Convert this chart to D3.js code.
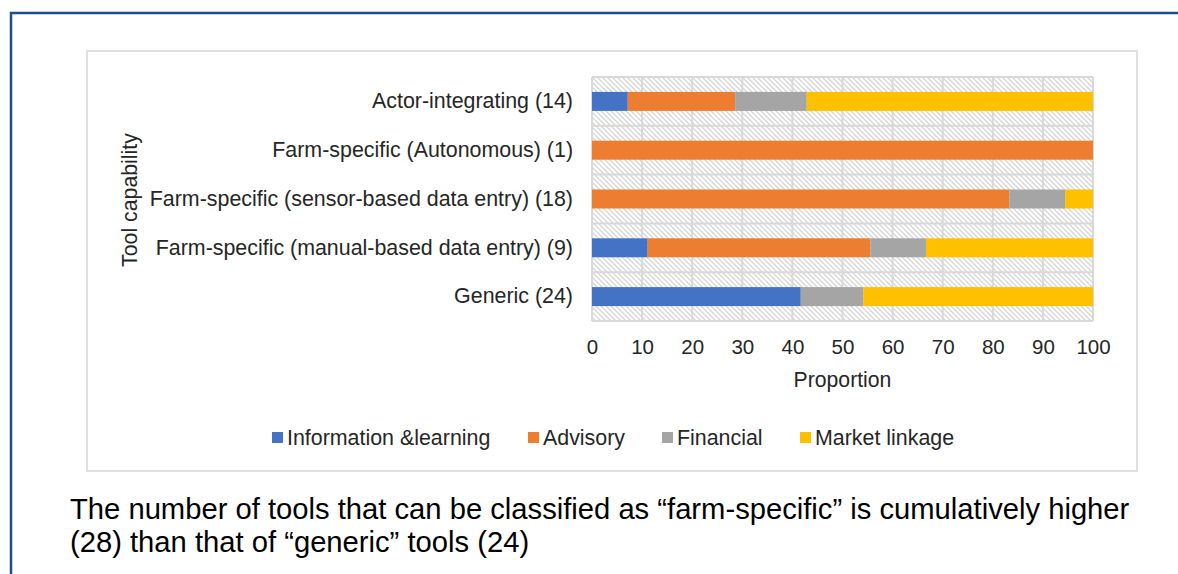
<!DOCTYPE html>
<html>
<head>
<meta charset="utf-8">
<script src="https://cdn.jsdelivr.net/npm/d3@7"></script>
<style>
  body { margin: 0; background: #fff; }
  text { font-family: "Liberation Sans", Arial, sans-serif; fill: #262626; }
</style>
</head>
<body>
<script>
// chart values (proportion of tools, %)
var categories = [
  "Actor-integrating (14)",
  "Farm-specific (Autonomous) (1)",
  "Farm-specific (sensor-based data entry) (18)",
  "Farm-specific (manual-based data entry) (9)",
  "Generic (24)"
];
var seriesNames = ["Information &learning", "Advisory", "Financial", "Market linkage"];
var infoLearning = [7.14, 0, 0, 11.11, 41.67];
var advisory = [21.43, 100, 83.33, 44.44, 0];
var financial = [14.29, 0, 11.11, 11.11, 12.5];
var marketLinkage = [57.14, 0, 5.56, 33.33, 45.83];
var xTicks = [0, 10, 20, 30, 40, 50, 60, 70, 80, 90, 100];

var colors = ["#4472C4", "#ED7D31", "#A5A5A5", "#FFC000"];

var W = 1178, H = 574;
var plot = {left: 592, right: 1093, top: 77, bottom: 321};

var svg = d3.select("body").append("svg")
  .attr("width", W)
  .attr("height", H);

// hatch pattern for the plot area
var defs = svg.append("defs");
var pat = defs.append("pattern")
  .attr("id", "hatch")
  .attr("patternUnits", "userSpaceOnUse")
  .attr("width", 5)
  .attr("height", 5);
pat.append("rect").attr("width", 5).attr("height", 5).attr("fill", "#fff");
pat.append("path")
  .attr("d", "M-1,-1 L6,6 M-1,4 L1,6 M4,-1 L6,1")
  .attr("stroke", "#d6d6d6")
  .attr("stroke-width", 1.3);

// outer slide frame
svg.append("path")
  .attr("d", "M11,580 L11,13 L1190,13")
  .attr("fill", "none")
  .attr("stroke", "#1F4E8C")
  .attr("stroke-width", 2.5);

// chart border
svg.append("rect")
  .attr("x", 87).attr("y", 51)
  .attr("width", 1050).attr("height", 420)
  .attr("fill", "#fff")
  .attr("stroke", "#e0e0e0")
  .attr("stroke-width", 2);

var x = d3.scaleLinear().domain([0, 100]).range([plot.left, plot.right]);
var y = d3.scaleBand().domain(categories).range([plot.top, plot.bottom]).paddingInner(0).paddingOuter(0);

svg.append("rect")
  .attr("x", plot.left).attr("y", plot.top)
  .attr("width", plot.right - plot.left).attr("height", plot.bottom - plot.top)
  .attr("fill", "url(#hatch)");

// gridlines
var grid = svg.append("g").attr("stroke", "#d9d9d9").attr("stroke-width", 2);
grid.selectAll(".vg").data(xTicks).enter().append("line")
  .attr("x1", d => x(d)).attr("x2", d => x(d))
  .attr("y1", plot.top).attr("y2", plot.bottom);
var bounds = categories.map(c => y(c)).concat([plot.bottom]);
grid.selectAll(".hg").data(bounds).enter().append("line")
  .attr("x1", plot.left).attr("x2", plot.right)
  .attr("y1", d => d).attr("y2", d => d);

// stacked bars
var rows = categories.map(function (c, i) {
  return {cat: c, s0: infoLearning[i], s1: advisory[i], s2: financial[i], s3: marketLinkage[i]};
});
var stack = d3.stack().keys(["s0", "s1", "s2", "s3"])(rows);
var barH = 19;

svg.append("g").selectAll("g")
  .data(stack)
  .enter().append("g")
  .attr("fill", (d, i) => colors[i])
  .selectAll("rect")
  .data(d => d)
  .enter().append("rect")
  .attr("x", d => x(d[0]))
  .attr("width", d => x(d[1]) - x(d[0]))
  .attr("y", d => y(d.data.cat) + y.bandwidth() / 2 - barH / 2)
  .attr("height", barH);

// axes
var xAxis = svg.append("g")
  .attr("transform", "translate(0," + plot.bottom + ")")
  .call(d3.axisBottom(x).tickValues(xTicks).tickSize(0).tickPadding(18));
xAxis.select(".domain").remove();
xAxis.selectAll("text").style("font-size", "20.5px").attr("fill", "#262626");

var yAxis = svg.append("g")
  .attr("transform", "translate(" + plot.left + ",0)")
  .call(d3.axisLeft(y).tickSize(0).tickPadding(19));
yAxis.select(".domain").remove();
yAxis.selectAll("text").style("font-size", "21.4px").attr("fill", "#262626");

svg.append("text")
  .attr("x", x(50)).attr("y", 387)
  .attr("text-anchor", "middle")
  .style("font-size", "21.2px")
  .text("Proportion");

svg.append("text")
  .attr("transform", "translate(137,200) rotate(-90)")
  .attr("text-anchor", "middle")
  .style("font-size", "21.3px")
  .text("Tool capability");

// legend
var legendX = [272, 528, 662, 800];
var legend = svg.append("g").selectAll("g")
  .data(seriesNames)
  .enter().append("g")
  .attr("transform", (d, i) => "translate(" + legendX[i] + ",432)");
legend.append("rect")
  .attr("width", 11).attr("height", 11)
  .attr("fill", (d, i) => colors[i]);
legend.append("text")
  .attr("x", 15).attr("y", 13)
  .style("font-size", "21.4px")
  .text(d => d);

// caption under the chart
var caption = [
  "The number of tools that can be classified as \u201cfarm-specific\u201d is cumulatively higher",
  "(28) than that of \u201cgeneric\u201d tools (24)"
];
svg.append("g").selectAll("text")
  .data(caption)
  .enter().append("text")
  .attr("x", 70)
  .attr("y", (d, i) => 519 + i * 33)
  .style("font-size", "29.2px")
  .style("fill", "#000")
  .text(d => d);
</script>
</body>
</html>
